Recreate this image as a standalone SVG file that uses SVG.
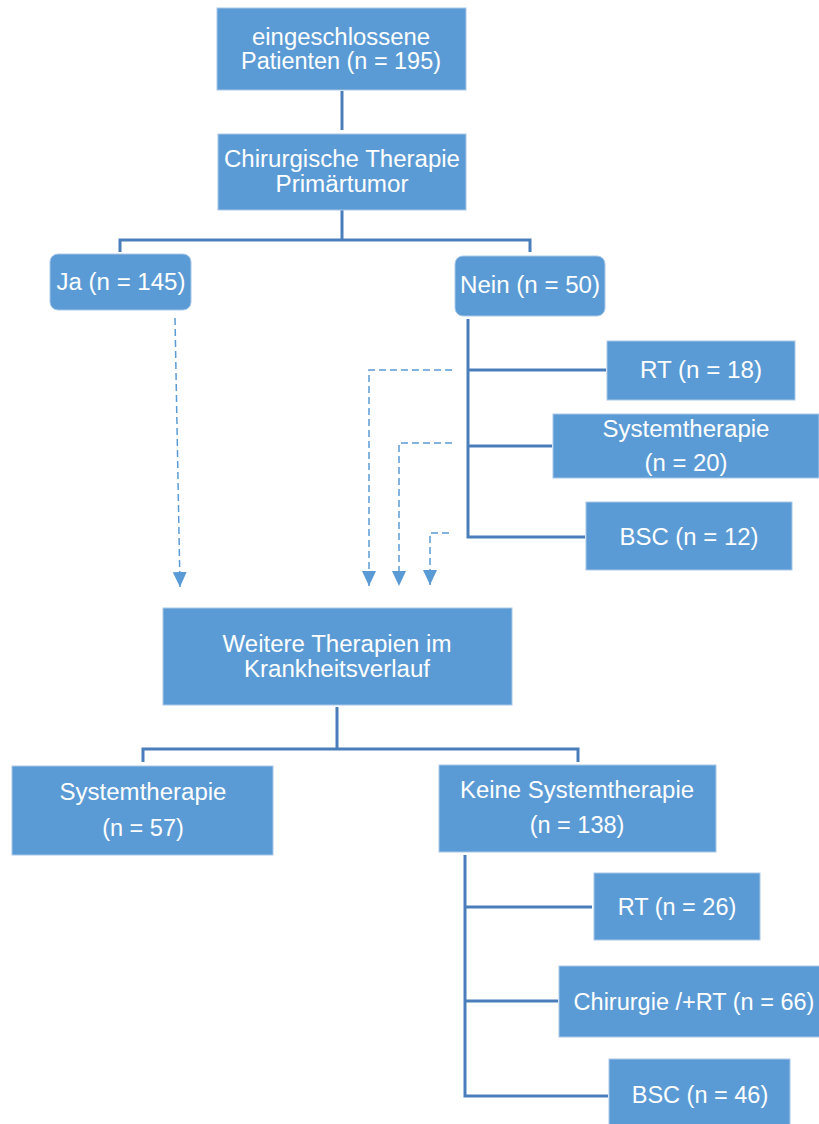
<svg xmlns="http://www.w3.org/2000/svg" width="819" height="1124" viewBox="0 0 819 1124">
<defs>
<style>
.box{fill:#5b9bd5;stroke:#a9c8e8;stroke-width:1}
.t{font-family:"Liberation Sans",Arial,sans-serif;font-size:23.5px;fill:#fff;text-anchor:middle}
.c{fill:none;stroke:#4a7ebb;stroke-width:3}
.d{fill:none;stroke:#5b9bd5;stroke-width:1.5;stroke-dasharray:7 4}
</style>
<marker id="ah" markerWidth="16" markerHeight="14" refX="15" refY="7" orient="auto" markerUnits="userSpaceOnUse" viewBox="0 0 16 14">
<path d="M0,0 L15,7 L0,14 Z" fill="#5b9bd5"/>
</marker>
</defs>
<rect width="819" height="1124" fill="#fff"/>
<g id="connectors">
<path class="c" d="M342,91 V130"/>
<path class="c" d="M342,210 V240 M120,252 V240 H530 V252"/>
<path class="c" d="M468,319 V537 H585 M468,370 H606 M468,446 H552"/>
<path class="c" d="M337,707 V749 M143,762 V749 H578 V762"/>
<path class="c" d="M465,855 V1096 H608 M465,907 H592 M465,1001 H558"/>
<path class="d" d="M175,318 L180,587" marker-end="url(#ah)"/>
<path class="d" d="M452,370 H369 V586" marker-end="url(#ah)"/>
<path class="d" d="M452,443 H399 V586" marker-end="url(#ah)"/>
<path class="d" d="M449,533 H430 V585" marker-end="url(#ah)"/>
</g>
<g id="n1"><rect class="box" x="217" y="8" width="249" height="82"/>
<text class="t" x="341" y="45" textLength="178" lengthAdjust="spacingAndGlyphs">eingeschlossene</text>
<text class="t" x="341" y="69" textLength="200" lengthAdjust="spacingAndGlyphs">Patienten (n = 195)</text></g>
<g id="n2"><rect class="box" x="218" y="134" width="248" height="76"/>
<text class="t" x="342" y="167" textLength="236" lengthAdjust="spacingAndGlyphs">Chirurgische Therapie</text>
<text class="t" x="342" y="192" textLength="133" lengthAdjust="spacingAndGlyphs">Primärtumor</text></g>
<g id="n3"><rect class="box" x="50" y="254" width="141" height="56" rx="8"/>
<text class="t" x="121" y="290" textLength="129" lengthAdjust="spacingAndGlyphs">Ja (n = 145)</text></g>
<g id="n4"><rect class="box" x="455" y="256" width="150" height="60" rx="8"/>
<text class="t" x="530" y="293" textLength="140" lengthAdjust="spacingAndGlyphs">Nein (n = 50)</text></g>
<g id="n5"><rect class="box" x="607" y="341" width="188" height="59"/>
<text class="t" x="701" y="378" textLength="122" lengthAdjust="spacingAndGlyphs">RT (n = 18)</text></g>
<g id="n6"><rect class="box" x="553" y="414" width="266" height="64"/>
<text class="t" x="686" y="437" textLength="167" lengthAdjust="spacingAndGlyphs">Systemtherapie</text>
<text class="t" x="686" y="471" textLength="83" lengthAdjust="spacingAndGlyphs">(n = 20)</text></g>
<g id="n7"><rect class="box" x="586" y="502" width="206" height="68"/>
<text class="t" x="689" y="545" textLength="139" lengthAdjust="spacingAndGlyphs">BSC (n = 12)</text></g>
<g id="n8"><rect class="box" x="163" y="608" width="349" height="97"/>
<text class="t" x="337" y="652" textLength="229" lengthAdjust="spacingAndGlyphs">Weitere Therapien im</text>
<text class="t" x="337" y="677" textLength="186" lengthAdjust="spacingAndGlyphs">Krankheitsverlauf</text></g>
<g id="n9"><rect class="box" x="12" y="766" width="261" height="89"/>
<text class="t" x="143" y="800" textLength="167" lengthAdjust="spacingAndGlyphs">Systemtherapie</text>
<text class="t" x="143" y="836">(n = 57)</text></g>
<g id="n10"><rect class="box" x="439" y="765" width="277" height="87"/>
<text class="t" x="577" y="798" textLength="234" lengthAdjust="spacingAndGlyphs">Keine Systemtherapie</text>
<text class="t" x="577" y="833">(n = 138)</text></g>
<g id="n11"><rect class="box" x="594" y="873" width="166" height="67"/>
<text class="t" x="677" y="915">RT (n = 26)</text></g>
<g id="n12"><rect class="box" x="559" y="966" width="262" height="71"/>
<text class="t" x="694" y="1010">Chirurgie /+RT (n = 66)</text></g>
<g id="n13"><rect class="box" x="609" y="1059" width="181" height="66"/>
<text class="t" x="700" y="1103">BSC (n = 46)</text></g>
</svg>
